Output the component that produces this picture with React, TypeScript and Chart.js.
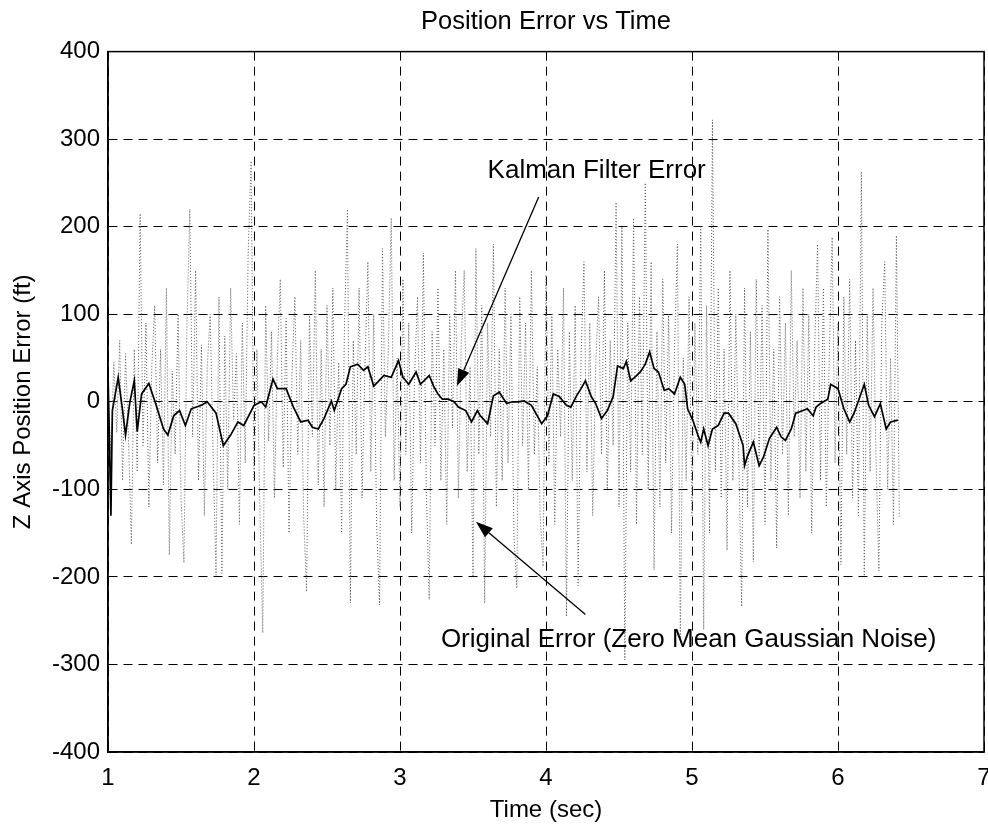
import React, { useEffect, useRef } from "react";
import { Chart, registerables } from "chart.js";

Chart.register(...registerables);

const TITLE = "Position Error vs Time";
const X_LABEL = "Time (sec)";
const Y_LABEL = "Z Axis Position Error (ft)";

const X_TICKS = [1, 2, 3, 4, 5, 6, 7];
const Y_TICKS = [-400, -300, -200, -100, 0, 100, 200, 300, 400];

// Original error (zero mean Gaussian noise), sampled every NOISE_DT seconds from NOISE_T0
const NOISE_T0 = 1.0;
const NOISE_DT = 0.02;
const NOISE_VALUES = [
  20, -60, 45, -35, 70, -90, 55, -40, -163, 60,
  -80, 215, -50, 90, -120, 40, 110, -70, 60, -95,
  130, -175, 35, -60, 100, -110, -184, 80, 220, -40,
  150, -90, 65, -130, 40, 100, -60, -198, 120, -196,
  75, -100, 130, -20, 55, -140, 90, -70, 170, 275,
  -90, 60, -120, -264, 110, -45, 80, -110, 50, 140,
  -75, 95, -150, 30, 120, -60, 70, -130, -217, 100,
  -40, 150, -95, 60, -120, 110, -50, 130, -100, 45,
  -150, 90, 220, -230, 70, -60, 130, -110, 40, 160,
  -80, 100, -140, -232, 175, -40, 60, 210, -90, 50,
  -120, 140, -60, 90, -150, 30, 120, -70, 170, -100,
  -226, 80, -50, 130, -90, 60, -140, 100, -30, 150,
  -110, 70, 150, -80, 40, -200, 175, -60, 110, -230,
  90, -40, 180, -120, 60, -90, 130, -70, 100, -150,
  -213, 120, -50, 90, -100, 150, -60, 40, -130, -188,
  145, -70, 100, -140, 60, -40, 130, -245, 80, -90,
  110, -210, 50, 160, -80, 90, -130, 40, 120, -60,
  150, -100, 70, -50, 228, -120, 200, -295, 90, -80,
  210, -140, 120, -60, 250, -100, 160, -192, 80, -120,
  140, -70, 100, -150, 60, 180, -272, 50, -90, 120,
  -130, 90, -60, 200, -260, 110, -150, 322, -80, 130,
  -110, 60, -170, 150, -90, 100, -60, -234, 130, -120,
  80, -183, 140, -70, 110, -140, 197, -90, 60, -167,
  120, -60, 90, -130, 150, -40, 70, -110, 130, -80,
  100, -150, 60, 180, -90, 130, -120, 50, 188, -70,
  90, -186, 120, -60, 140, -110, 70, -130, 263, -199,
  100, -80, 130, -60, -193, 90, 160, -100, 50, -140,
  190, -131,
];

// Kalman filter error
const KALMAN_T = [
  1.00, 1.02, 1.03, 1.07, 1.10, 1.12, 1.15, 1.18, 1.20, 1.23,
  1.28, 1.33, 1.38, 1.41, 1.45, 1.49, 1.53, 1.57, 1.64, 1.68,
  1.74, 1.79, 1.84, 1.89, 1.93, 2.00, 2.05, 2.08, 2.13, 2.16,
  2.22, 2.27, 2.32, 2.37, 2.40, 2.44, 2.48, 2.53, 2.55, 2.60,
  2.63, 2.66, 2.71, 2.75, 2.78, 2.82, 2.85, 2.89, 2.94, 2.99,
  3.02, 3.06, 3.11, 3.14, 3.20, 3.23, 3.26, 3.29, 3.33, 3.37,
  3.40, 3.45, 3.49, 3.53, 3.55, 3.60, 3.64, 3.68, 3.73, 3.77,
  3.81, 3.85, 3.90, 3.93, 3.97, 4.01, 4.05, 4.09, 4.14, 4.17,
  4.21, 4.24, 4.27, 4.31, 4.34, 4.38, 4.42, 4.46, 4.49, 4.53,
  4.55, 4.58, 4.62, 4.65, 4.68, 4.71, 4.74, 4.77, 4.81, 4.84,
  4.88, 4.92, 4.95, 4.97, 5.01, 5.04, 5.06, 5.08, 5.11, 5.14,
  5.18, 5.22, 5.25, 5.30, 5.35, 5.36, 5.38, 5.42, 5.46, 5.49,
  5.53, 5.58, 5.61, 5.64, 5.68, 5.71, 5.76, 5.79, 5.83, 5.85,
  5.88, 5.93, 5.95, 6.00, 6.04, 6.08, 6.11, 6.18, 6.21, 6.25,
  6.29, 6.33, 6.36, 6.41,
];
const KALMAN_V = [
  35, -130, -10, 28, -10, -38, 0, 24, -34, 9,
  21, -4, -31, -38, -16, -10, -27, -8, -4, 0,
  -13, -50, -38, -23, -27, -4, 0, -6, 26, 15,
  15, -6, -23, -21, -29, -31, -19, 1, -10, 15,
  20, 40, 43, 36, 40, 18, 23, 30, 28, 47,
  28, 20, 34, 20, 30, 18, 9, 3, 3, 0,
  -6, -10, -23, -10, -16, -25, 7, 11, -2, 0,
  0, 1, -4, -13, -25, -16, 9, 6, -4, -6,
  7, 15, 24, 6, -2, -19, -10, 6, 41, 38,
  46, 24, 30, 35, 43, 57, 38, 34, 13, 15,
  9, 28, 20, -8, -23, -38, -46, -31, -50, -31,
  -27, -13, -13, -25, -50, -73, -62, -46, -73, -63,
  -42, -29, -40, -44, -31, -13, -10, -8, -16, -6,
  -2, 3, 20, 15, -8, -23, -13, 20, -4, -17,
  -2, -31, -23, -21,
];

// Text callouts, positioned in data units (time, ft)
const CALLOUTS = [
  { text: "Kalman Filter Error", textT: 3.6, textV: 256, fromT: 3.95, fromV: 234, toT: 3.39, toV: 18 },
  { text: "Original Error (Zero Mean Gaussian Noise)", textT: 3.28, textV: -280, fromT: 4.27, fromV: -243, toT: 3.52, toV: -137 },
];

const FONT = '"Liberation Sans", Arial, Helvetica, sans-serif';

const overlayPlugin = {
  id: "frameAndCallouts",
  afterDatasetsDraw(chart: any) {
    const { ctx, chartArea: a, scales } = chart;
    ctx.save();
    ctx.setLineDash([]);
    ctx.strokeStyle = "#000";
    ctx.lineWidth = 1.5;
    ctx.strokeRect(a.left, a.top, a.right - a.left, a.bottom - a.top);

    ctx.font = `26px ${FONT}`;
    ctx.fillStyle = "#000";
    ctx.textAlign = "left";
    ctx.textBaseline = "alphabetic";
    for (const c of CALLOUTS) {
      const tx = scales.x.getPixelForValue(c.textT);
      const ty = scales.y.getPixelForValue(c.textV);
      ctx.fillText(c.text, tx, ty);
      const x1 = scales.x.getPixelForValue(c.fromT);
      const y1 = scales.y.getPixelForValue(c.fromV);
      const x2 = scales.x.getPixelForValue(c.toT);
      const y2 = scales.y.getPixelForValue(c.toV);
      const ang = Math.atan2(y2 - y1, x2 - x1);
      const headLen = 17;
      const headW = 6;
      const bx = x2 - headLen * Math.cos(ang);
      const by = y2 - headLen * Math.sin(ang);
      ctx.lineWidth = 1.3;
      ctx.beginPath();
      ctx.moveTo(x1, y1);
      ctx.lineTo(bx, by);
      ctx.stroke();
      ctx.beginPath();
      ctx.moveTo(x2, y2);
      ctx.lineTo(bx + headW * Math.sin(ang), by - headW * Math.cos(ang));
      ctx.lineTo(bx - headW * Math.sin(ang), by + headW * Math.cos(ang));
      ctx.closePath();
      ctx.fill();
    }
    ctx.restore();
  },
};

export default function App() {
  const canvasRef = useRef<HTMLCanvasElement | null>(null);

  useEffect(() => {
    const canvas = canvasRef.current;
    if (!canvas) return;

    const noiseData = NOISE_VALUES.map((v, i) => ({ x: NOISE_T0 + i * NOISE_DT, y: v }));
    const kalmanData = KALMAN_T.map((t, i) => ({ x: t, y: KALMAN_V[i] }));

    const chart = new Chart(canvas, {
      type: "line",
      data: {
        datasets: [
          {
            label: "Kalman Filter Error",
            data: kalmanData,
            borderColor: "#000",
            borderWidth: 1.7,
            pointRadius: 0,
            tension: 0,
            fill: false,
          },
          {
            label: "Original Error",
            data: noiseData,
            borderColor: "#5a5a5a",
            borderWidth: 1,
            borderDash: [1, 2],
            pointRadius: 0,
            tension: 0,
            fill: false,
          },
        ],
      },
      options: {
        animation: false,
        responsive: false,
        maintainAspectRatio: false,
        layout: { padding: { left: 0, right: 4, top: 0, bottom: 0 } },
        plugins: {
          legend: { display: false },
          tooltip: { enabled: false },
          title: {
            display: true,
            text: TITLE,
            fullSize: false,
            color: "#000",
            font: { family: FONT, size: 25.5, weight: "normal" },
            padding: { top: 7, bottom: 14 },
          },
        },
        scales: {
          x: {
            type: "linear",
            min: 1,
            max: 7,
            afterBuildTicks: (s: any) => {
              s.ticks = X_TICKS.map((v) => ({ value: v }));
            },
            afterFit: (s: any) => {
              s.height = 74;
              s.paddingLeft = 0;
              s.paddingRight = 0;
            },
            ticks: {
              color: "#000",
              font: { family: FONT, size: 24 },
              padding: 12,
              maxRotation: 0,
              autoSkip: false,
            },
            grid: { color: "#000", lineWidth: 1, drawTicks: false },
            border: { display: true, color: "#000", width: 1.5, dash: [9, 6] },
            title: {
              display: true,
              text: X_LABEL,
              color: "#000",
              font: { family: FONT, size: 24 },
              padding: { top: 0, bottom: 1 },
            },
          },
          y: {
            type: "linear",
            min: -400,
            max: 400,
            afterBuildTicks: (s: any) => {
              s.ticks = Y_TICKS.map((v) => ({ value: v }));
            },
            afterFit: (s: any) => {
              s.width = 108;
            },
            ticks: {
              color: "#000",
              font: { family: FONT, size: 24 },
              padding: 8,
              autoSkip: false,
            },
            grid: { color: "#000", lineWidth: 1, drawTicks: false },
            border: { display: true, color: "#000", width: 1.5, dash: [9, 6] },
            title: {
              display: true,
              text: Y_LABEL,
              color: "#000",
              font: { family: FONT, size: 24 },
              padding: { top: 9, bottom: 0 },
            },
          },
        },
      },
      plugins: [overlayPlugin],
    });

    return () => chart.destroy();
  }, []);

  return (
    <div style={{ position: "fixed", left: 0, top: 0, width: 988, height: 826, background: "#fff" }}>
      <canvas ref={canvasRef} width={988} height={826} style={{ display: "block" }} />
    </div>
  );
}
